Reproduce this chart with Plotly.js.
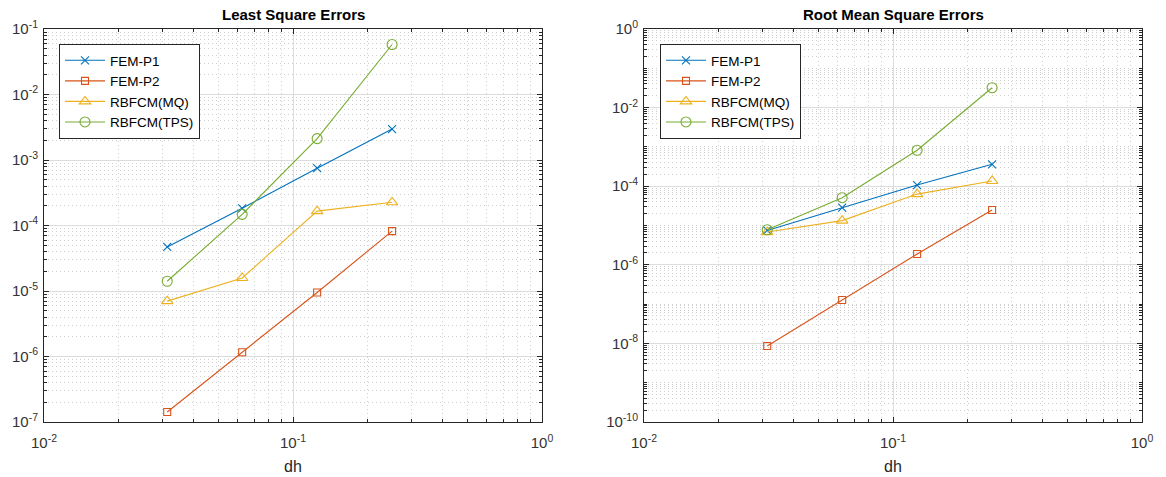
<!DOCTYPE html>
<html>
<head>
<meta charset="utf-8">
<script src="https://cdn.plot.ly/plotly-3.0.1.min.js"></script>
<style>html,body{margin:0;padding:0;background:#fff;}#chart{width:1166px;height:477px;}</style>
</head>
<body>
<div id="chart"></div>
<script>
// ---- data ----
const dh = [0.03125, 0.0625, 0.125, 0.25];
const seriesNames = ['FEM-P1', 'FEM-P2', 'RBFCM(MQ)', 'RBFCM(TPS)'];

// Least Square Errors
const lse_femP1  = [4.7e-5, 1.83e-4, 7.5e-4, 2.97e-3];
const lse_femP2  = [1.42e-7, 1.16e-6, 9.5e-6, 8.2e-5];
const lse_rbfMQ  = [7.0e-6, 1.58e-5, 1.66e-4, 2.26e-4];
const lse_rbfTPS = [1.41e-5, 1.48e-4, 2.12e-3, 5.8e-2];

// Root Mean Square Errors
const rmse_femP1  = [7.5e-6, 2.84e-5, 1.07e-4, 3.6e-4];
const rmse_femP2  = [8.6e-9, 1.27e-7, 1.88e-6, 2.48e-5];
const rmse_rbfMQ  = [6.8e-6, 1.33e-5, 6.3e-5, 1.36e-4];
const rmse_rbfTPS = [7.8e-6, 5.1e-5, 8.2e-4, 3.2e-2];

// tick labels
const xTickVals = [0.01, 0.1, 1];
const xTickText = ['10<sup>-2</sup>', '10<sup>-1</sup>', '10<sup>0</sup>'];
const y1TickVals = [1e-7, 1e-6, 1e-5, 1e-4, 1e-3, 1e-2, 1e-1];
const y1TickText = ['10<sup>-7</sup>', '10<sup>-6</sup>', '10<sup>-5</sup>', '10<sup>-4</sup>', '10<sup>-3</sup>', '10<sup>-2</sup>', '10<sup>-1</sup>'];
const y2TickVals = [1e-10, 1e-8, 1e-6, 1e-4, 1e-2, 1];
const y2TickText = ['10<sup>-10</sup>', '10<sup>-8</sup>', '10<sup>-6</sup>', '10<sup>-4</sup>', '10<sup>-2</sup>', '10<sup>0</sup>'];

// ---- styling ----
const colors = ['#0072BD', '#D95319', '#EDB120', '#77AC30'];
const symbols = ['x-thin-open', 'square-open', 'triangle-up-open', 'circle-open'];
const sizes = [8, 7, 10, 10];
const axisColor = '#262626';
const gridColor = '#dcdcdc';
const minorGridColor = '#cfcfcf';
const FONT = 'Liberation Sans, Arial, sans-serif';

function minorVals(d0, d1) {
  const v = [];
  for (let d = d0; d < d1; d++) {
    for (let k = 1; k <= 9; k++) v.push(k * Math.pow(10, d));
  }
  return v;
}

function mkTraces(ys, xa, ya, leg) {
  return ys.map((y, i) => ({
    x: dh, y: y, type: 'scatter', mode: 'lines+markers', name: seriesNames[i],
    xaxis: xa, yaxis: ya, legend: leg,
    line: {color: colors[i], width: 1.1},
    marker: {symbol: symbols[i], size: sizes[i], color: colors[i], line: {color: colors[i], width: 1.1}}
  }));
}

const traces = [].concat(
  mkTraces([lse_femP1, lse_femP2, lse_rbfMQ, lse_rbfTPS], 'x', 'y', 'legend'),
  mkTraces([rmse_femP1, rmse_femP2, rmse_rbfMQ, rmse_rbfTPS], 'x2', 'y2', 'legend2')
);

const W = 1166, H = 477;
const tickFont = {family: FONT, size: 15, color: '#333333'};

function axisBase(extra) {
  return Object.assign({
    type: 'log', showline: true, mirror: 'ticks', linecolor: axisColor, linewidth: 1,
    ticks: 'inside', ticklen: 5, tickcolor: axisColor, tickwidth: 1,
    showgrid: true, gridcolor: gridColor, gridwidth: 1, zeroline: false,
    tickmode: 'array', tickfont: tickFont, fixedrange: true, automargin: false
  }, extra);
}

function xAxis(domain, anchor) {
  return axisBase({
    domain: domain, anchor: anchor, range: [-2, 0],
    tickvals: xTickVals, ticktext: xTickText, ticklabelstandoff: 7,
    minor: {tickmode: 'array', tickvals: minorVals(-2, 0), showgrid: true, gridcolor: minorGridColor,
            griddash: '1px,3px', gridwidth: 1, ticks: 'inside', ticklen: 3, tickcolor: axisColor},
    title: {text: 'dh', font: {family: FONT, size: 16, color: axisColor}, standoff: 10}
  });
}

function yAxis(range, tv, tt, anchor) {
  return axisBase({
    domain: [1 - 422 / H, 1 - 29 / H], anchor: anchor, range: range,
    tickvals: tv, ticktext: tt, ticklabelstandoff: 2,
    minor: {tickmode: 'array', tickvals: minorVals(range[0], range[1]), showgrid: true, gridcolor: minorGridColor,
            griddash: '1px,3px', gridwidth: 1, ticks: 'inside', ticklen: 3, tickcolor: axisColor}
  });
}

const legendBase = {
  xanchor: 'left', yanchor: 'top', bgcolor: '#ffffff', bordercolor: axisColor, borderwidth: 1,
  font: {family: FONT, size: 13.5, color: '#000'},
  tracegroupgap: 0, itemwidth: 40
};

const layout = {
  width: W, height: H,
  margin: {l: 0, r: 0, t: 0, b: 0},
  paper_bgcolor: '#ffffff', plot_bgcolor: '#ffffff',
  showlegend: true,
  xaxis: xAxis([44 / W, 542 / W], 'y'),
  yaxis: yAxis([-7, -1], y1TickVals, y1TickText, 'x'),
  xaxis2: xAxis([644 / W, 1142 / W], 'y2'),
  yaxis2: yAxis([-10, 0], y2TickVals, y2TickText, 'x2'),
  legend: Object.assign({x: 59 / W, y: 1 - 44 / H}, legendBase),
  legend2: Object.assign({x: 660 / W, y: 1 - 44 / H}, legendBase),
  annotations: [
    {text: '<b>Least Square Errors</b>', xref: 'paper', yref: 'paper', x: 293 / W, y: 1 - 15 / H,
     xanchor: 'center', yanchor: 'middle', showarrow: false,
     font: {family: FONT, size: 15, color: '#000'}},
    {text: '<b>Root Mean Square Errors</b>', xref: 'paper', yref: 'paper', x: 893 / W, y: 1 - 15 / H,
     xanchor: 'center', yanchor: 'middle', showarrow: false,
     font: {family: FONT, size: 15, color: '#000'}}
  ]
};

Plotly.newPlot('chart', traces, layout, {staticPlot: true, displayModeBar: false});
</script>
</body>
</html>
